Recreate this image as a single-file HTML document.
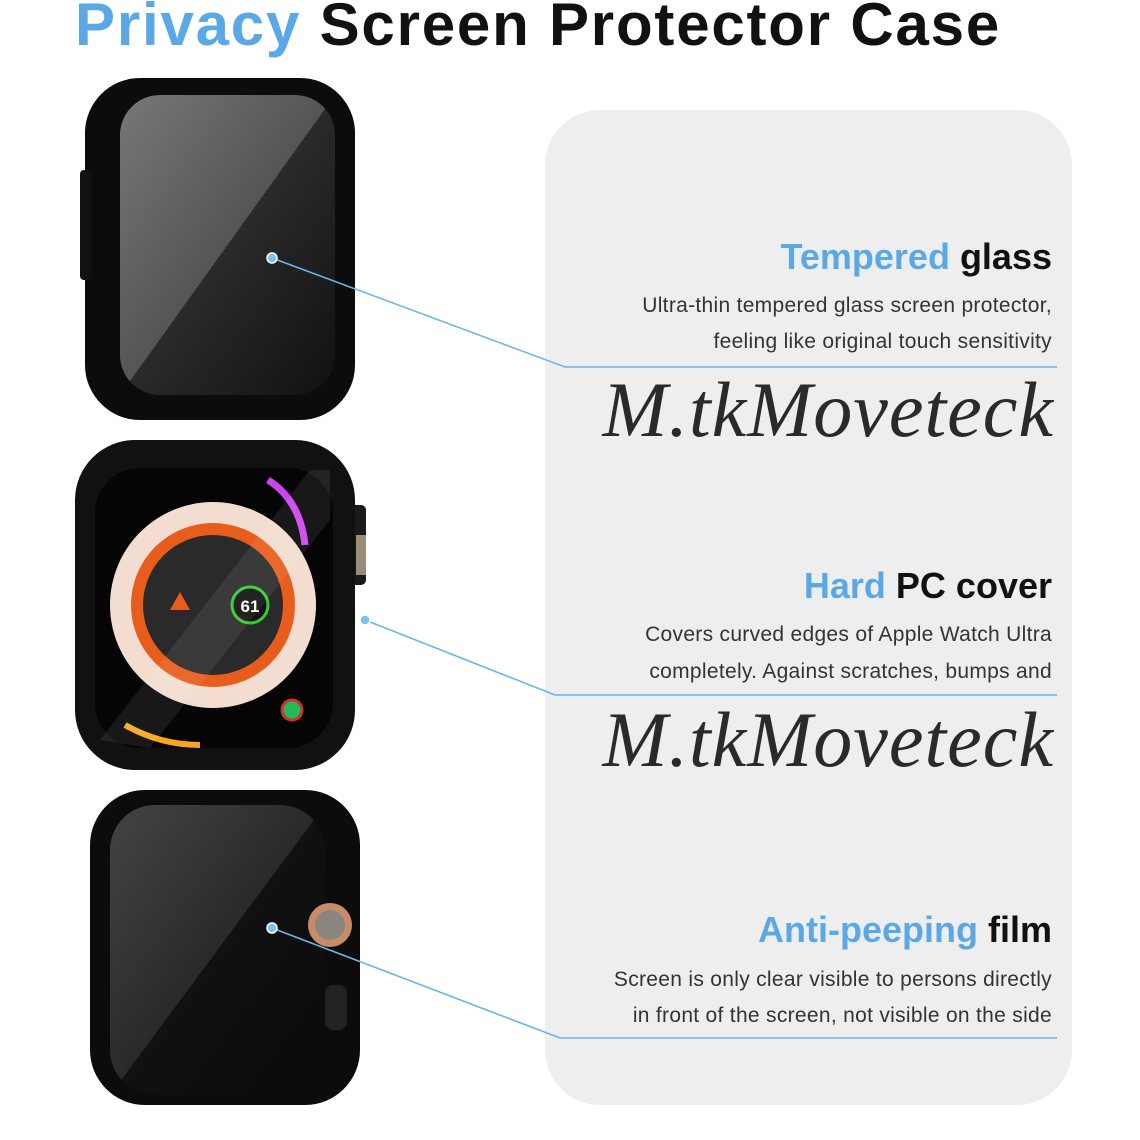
<!DOCTYPE html>
<html><head><meta charset="utf-8"><style>
html,body{margin:0;padding:0;background:#fff;width:1140px;height:1140px;overflow:hidden;position:relative;font-family:"Liberation Sans","DejaVu Sans",sans-serif}
.t{position:absolute;white-space:nowrap}
.title{left:75px;top:-10px;font-size:60px;font-weight:bold;color:#111;letter-spacing:1.8px}
.blue{color:#5aa9e6}
.h{right:88px;font-size:36px;font-weight:bold;color:#111;text-align:right}
.p{right:88px;font-size:21px;color:#333;text-align:right;letter-spacing:0.3px}
.w{right:86px;font-size:78px;font-family:"Liberation Serif",serif;font-style:italic;color:#2a2a2a;letter-spacing:1px}
</style></head><body>
<svg width="1140" height="1140" style="position:absolute;left:0;top:0">
<defs>
<linearGradient id="g1" x1="0" y1="0" x2="1" y2="1"><stop offset="0" stop-color="#777"/><stop offset="0.5" stop-color="#555"/><stop offset="0.5" stop-color="#2a2a2a"/><stop offset="1" stop-color="#111"/></linearGradient>
<linearGradient id="g3" x1="0" y1="0" x2="1" y2="1"><stop offset="0" stop-color="#444"/><stop offset="0.5" stop-color="#2a2a2a"/><stop offset="0.5" stop-color="#111"/><stop offset="1" stop-color="#0a0a0a"/></linearGradient>
</defs>
<rect x="545" y="110" width="527" height="995" rx="55" fill="#eeeeee"/>
<rect x="85" y="78" width="270" height="342" rx="55" fill="#0c0c0c"/>
<rect x="120" y="95" width="215" height="300" rx="40" fill="url(#g1)"/>
<rect x="80" y="170" width="12" height="110" rx="4" fill="#111"/>
<rect x="350" y="505" width="16" height="80" rx="5" fill="#1a1a1a"/>
<rect x="356" y="535" width="10" height="40" fill="#9b8c78"/>
<rect x="75" y="440" width="280" height="330" rx="60" fill="#111"/>
<rect x="95" y="468" width="238" height="280" rx="45" fill="#050505"/>
<circle cx="213" cy="605" r="103" fill="#f3ddd0"/>
<circle cx="213" cy="605" r="82" fill="#e85d1c"/>
<circle cx="213" cy="605" r="70" fill="#2a2a2a"/>
<circle cx="250" cy="605" r="18" fill="#111" stroke="#3c3" stroke-width="3"/>
<text x="250" y="612" font-size="17" font-weight="bold" fill="#fff" text-anchor="middle" font-family="Liberation Sans">61</text>
<path d="M170 610 l10 -18 l10 18z" fill="#e85d1c"/>
<path d="M268 480 Q300 500 305 545" stroke="#c4e" stroke-width="7" fill="none"/>
<path d="M125 725 Q160 745 200 745" stroke="#f5a623" stroke-width="6" fill="none"/>
<circle cx="292" cy="710" r="10" fill="#2b5" stroke="#c33" stroke-width="3"/>
<polygon points="100,740 310,470 330,470 330,520 150,748" fill="#fff" opacity="0.08"/>
<rect x="90" y="790" width="270" height="315" rx="55" fill="#0c0c0c"/>
<rect x="110" y="805" width="215" height="290" rx="45" fill="url(#g3)"/>
<circle cx="330" cy="925" r="22" fill="#c88b67"/>
<circle cx="330" cy="925" r="15" fill="#8a857f"/>
<rect x="325" y="985" width="22" height="45" rx="8" fill="#222"/>
<g stroke="#6cb4e8" stroke-width="1.6" fill="none">
<polyline points="272,258 565,367 1057,367"/>
<polyline points="365,620 555,695 1057,695"/>
<polyline points="272,928 560,1038 1057,1038"/>
</g>
<g fill="#7cc0f0" stroke="#fff" stroke-width="1.5">
<circle cx="272" cy="258" r="5"/><circle cx="365" cy="620" r="5"/><circle cx="272" cy="928" r="5"/>
</g>
</svg>
<div class="t title"><span class="blue">Privacy</span> Screen Protector Case</div>
<div class="t h" style="top:236px"><span class="blue">Tempered</span> glass</div>
<div class="t p" style="top:294px">Ultra-thin tempered glass screen protector,</div>
<div class="t p" style="top:330px">feeling like original touch sensitivity</div>
<div class="t w" style="top:365px">M.tkMoveteck</div>
<div class="t h" style="top:565px"><span class="blue">Hard</span> PC cover</div>
<div class="t p" style="top:623px">Covers curved edges of Apple Watch Ultra</div>
<div class="t p" style="top:660px">completely. Against scratches, bumps and</div>
<div class="t w" style="top:695px">M.tkMoveteck</div>
<div class="t h" style="top:909px"><span class="blue">Anti-peeping</span> film</div>
<div class="t p" style="top:968px">Screen is only clear visible to persons directly</div>
<div class="t p" style="top:1004px">in front of the screen, not visible on the side</div>
</body></html>
